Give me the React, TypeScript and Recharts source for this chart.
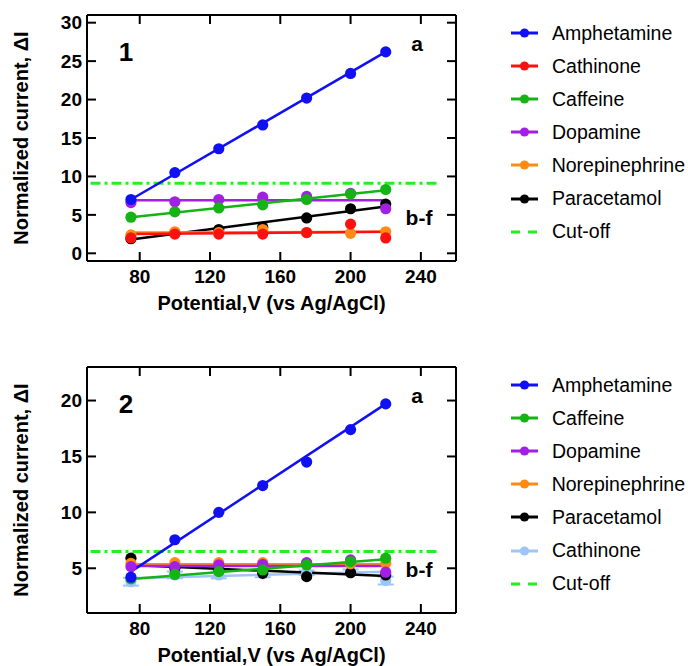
import {
  ComposedChart,
  ErrorBar,
  Line,
  Scatter,
  XAxis,
  YAxis,
} from "recharts";

const FONT = '"Liberation Sans", Arial, sans-serif';

// applied potentials (x)
const potentials = [75, 100, 125, 150, 175, 200, 220];
const fitX = [75, 220];
const cutX = [52, 250];
const xTicks = [80, 120, 160, 200, 240];

// panel 1
const amph1 = [7.0, 10.5, 13.6, 16.7, 20.2, 23.4, 26.2];
const cath1 = [2.0, 2.5, 2.5, 2.5, 2.7, 3.8, 2.0];
const caff1 = [4.7, 5.4, 5.9, 6.3, 7.0, 7.7, 8.3];
const dopa1 = [6.6, 6.7, 7.0, 7.3, 7.4, 7.8, 5.8];
const nore1 = [2.4, 2.8, 2.7, 3.1, 2.7, 2.6, 2.8];
const para1 = [1.9, 2.6, 3.1, 3.4, 4.6, 5.8, 6.4];
const amph1Fit = [7.0, 26.2];
const cath1Fit = [2.5, 2.8];
const caff1Fit = [4.7, 8.2];
const dopa1Fit = [6.9, 6.9];
const nore1Fit = [2.7, 2.8];
const para1Fit = [1.8, 6.1];
const cutoff1 = [9.1, 9.1];
const yTicks1 = [0, 5, 10, 15, 20, 25, 30];

// panel 2
const amph2 = [4.2, 7.55, 10.0, 12.4, 14.5, 17.4, 19.7];
const caff2 = [4.05, 4.45, 4.7, 4.85, 5.3, 5.6, 5.9];
const dopa2 = [5.15, 5.15, 5.3, 5.35, 5.5, 5.75, 4.65];
const nore2 = [5.45, 5.5, 5.5, 5.5, 5.45, 5.4, 5.45];
const para2 = [5.9, 5.0, 4.9, 4.55, 4.25, 4.6, 4.4];
const cath2 = [3.8, 4.4, 4.4, 4.5, 4.6, 4.7, 3.9];
const cath2Err = [0.35, 0.3, 0.3, 0.3, 0.2, 0.2, 0.35];
const amph2Fit = [4.7, 19.7];
const caff2Fit = [4.05, 5.8];
const dopa2Fit = [5.2, 5.2];
const nore2Fit = [5.35, 5.35];
const para2Fit = [5.3, 4.3];
const cath2Fit = [4.1, 4.7];
const cutoff2 = [6.5, 6.5];
const yTicks2 = [5, 10, 15, 20];

const C = {
  amph: "#1010f2",
  cath: "#ff1010",
  caff: "#14b414",
  dopa: "#a41fe6",
  nore: "#ff8a14",
  para: "#000000",
  cathLight: "#9ec5f8",
  cut: "#22f022",
};

type Series = {
  name: string;
  color: string;
  values: number[];
  fit: number[];
  err?: number[];
};

// drawn back to front
const panel1: Series[] = [
  { name: "Paracetamol", color: C.para, values: para1, fit: para1Fit },
  { name: "Norepinephrine", color: C.nore, values: nore1, fit: nore1Fit },
  { name: "Dopamine", color: C.dopa, values: dopa1, fit: dopa1Fit },
  { name: "Caffeine", color: C.caff, values: caff1, fit: caff1Fit },
  { name: "Cathinone", color: C.cath, values: cath1, fit: cath1Fit },
  { name: "Amphetamine", color: C.amph, values: amph1, fit: amph1Fit },
];

const panel2: Series[] = [
  { name: "Cathinone", color: C.cathLight, values: cath2, fit: cath2Fit, err: cath2Err },
  { name: "Paracetamol", color: C.para, values: para2, fit: para2Fit },
  { name: "Norepinephrine", color: C.nore, values: nore2, fit: nore2Fit },
  { name: "Dopamine", color: C.dopa, values: dopa2, fit: dopa2Fit },
  { name: "Caffeine", color: C.caff, values: caff2, fit: caff2Fit },
  { name: "Amphetamine", color: C.amph, values: amph2, fit: amph2Fit },
];

const legend1 = ["Amphetamine", "Cathinone", "Caffeine", "Dopamine", "Norepinephrine", "Paracetamol"];
const legend2 = ["Amphetamine", "Caffeine", "Dopamine", "Norepinephrine", "Paracetamol", "Cathinone"];

const toPoints = (xs: number[], ys: number[], err?: number[]) =>
  xs.map((x, i) => ({ x, y: ys[i], err: err ? err[i] : 0 }));

type PanelProps = {
  series: Series[];
  cutoff: number[];
  yDomain: [number, number];
  yTicks: number[];
  panel: string;
  height: number;
};

function Panel({ series, cutoff, yDomain, yTicks, panel, height }: PanelProps) {
  const tickStyle = { fontSize: 19, fontWeight: 700, fill: "#000", fontFamily: FONT };
  const axisLine = { stroke: "#000", strokeWidth: 2 };
  const tickLine = { stroke: "#000", strokeWidth: 2 };
  return (
    <ComposedChart
      height={height}
      margin={{ top: 15, right: 24, bottom: height - 15 - 246 - 50, left: 21 }}
      width={480}
    >
      <XAxis
        allowDataOverflow
        axisLine={axisLine}
        dataKey="x"
        domain={[50, 260]}
        height={50}
        label={{
          value: "Potential,V (vs Ag/AgCl)",
          position: "insideBottom",
          offset: 1,
          style: { fontSize: 20, fontWeight: 700, fill: "#000", fontFamily: FONT },
        }}
        tick={tickStyle}
        tickLine={tickLine}
        tickMargin={18}
        tickSize={-9}
        ticks={xTicks}
        type="number"
      />
      <XAxis
        allowDataOverflow
        axisLine={axisLine}
        dataKey="x"
        domain={[50, 260]}
        mirror
        orientation="top"
        tickFormatter={() => ""}
        tickLine={tickLine}
        tickSize={9}
        ticks={xTicks}
        type="number"
        xAxisId="top"
      />
      <YAxis
        allowDataOverflow
        axisLine={axisLine}
        dataKey="y"
        domain={yDomain}
        label={{
          value: "Normalized current, ΔI",
          angle: -90,
          position: "insideLeft",
          offset: 0,
          style: { fontSize: 20, fontWeight: 700, fill: "#000", fontFamily: FONT, textAnchor: "middle" },
        }}
        tick={tickStyle}
        tickLine={tickLine}
        tickMargin={14}
        tickSize={-9}
        ticks={yTicks}
        type="number"
        width={66}
      />
      <YAxis
        allowDataOverflow
        axisLine={axisLine}
        dataKey="y"
        domain={yDomain}
        mirror
        orientation="right"
        tickFormatter={() => ""}
        tickLine={tickLine}
        tickSize={9}
        ticks={yTicks}
        type="number"
        width={10}
        yAxisId="right"
      />
      <Line
        data={toPoints(cutX, cutoff)}
        dataKey="y"
        dot={false}
        isAnimationActive={false}
        stroke={C.cut}
        strokeDasharray="10 4 3 4"
        strokeWidth={3}
        type="linear"
      />
      {series.flatMap((s) => [
        <Line
          data={toPoints(fitX, s.fit)}
          dataKey="y"
          dot={false}
          isAnimationActive={false}
          key={`${s.name}-fit`}
          stroke={s.color}
          strokeWidth={2.5}
          type="linear"
        />,
        <Scatter
          data={toPoints(potentials, s.values, s.err)}
          dataKey="y"
          fill={s.color}
          isAnimationActive={false}
          key={`${s.name}-pts`}
          shape={(p: any) => <circle cx={p.cx} cy={p.cy} fill={s.color} r={5.6} />}
        >
          {s.err ? (
            <ErrorBar
              dataKey="err"
              direction="y"
              stroke={s.color}
              strokeWidth={2}
              width={8}
            />
          ) : null}
        </Scatter>,
      ])}
      <text fill="#000" fontFamily={FONT} fontSize={26} fontWeight={700} textAnchor="middle" x={126} y={61}>
        {panel}
      </text>
      <text fill="#000" fontFamily={FONT} fontSize={21} fontWeight={700} textAnchor="middle" x={417} y={51}>
        a
      </text>
      <text fill="#000" fontFamily={FONT} fontSize={21} fontWeight={700} textAnchor="middle" x={419} y={225}>
        b-f
      </text>
    </ComposedChart>
  );
}

function LegendBox({ names, colors, top }: { names: string[]; colors: Record<string, string>; top: number }) {
  const rows = [...names, "Cut-off"];
  return (
    <div style={{ position: "absolute", left: 505, top, fontFamily: FONT }}>
      {rows.map((name, i) => (
        <div
          key={name}
          style={{ position: "absolute", left: 0, top: i * 33.1 - 12, height: 24, width: 180, display: "flex", alignItems: "center" }}
        >
          <svg height={24} width={40}>
            {name === "Cut-off" ? (
              <line stroke={C.cut} strokeDasharray="9 8" strokeWidth={3} x1={6} x2={33} y1={12} y2={12} />
            ) : (
              <>
                <line stroke={colors[name]} strokeWidth={3} x1={6} x2={33} y1={12} y2={12} />
                <circle cx={19.5} cy={12} fill={colors[name]} r={4.6} />
              </>
            )}
          </svg>
          <span style={{ marginLeft: 7, fontSize: 19.5, color: "#000", whiteSpace: "nowrap" }}>{name}</span>
        </div>
      ))}
    </div>
  );
}

export default function App() {
  const colors1: Record<string, string> = {};
  panel1.forEach((s) => (colors1[s.name] = s.color));
  const colors2: Record<string, string> = {};
  panel2.forEach((s) => (colors2[s.name] = s.color));
  return (
    <div
      style={{ position: "absolute", left: 0, top: 0, width: 688, height: 666, overflow: "hidden", background: "#fff" }}
    >
      <div style={{ position: "absolute", left: 0, top: 0 }}>
        <Panel cutoff={cutoff1} height={330} panel="1" series={panel1} yDomain={[-1, 31]} yTicks={yTicks1} />
      </div>
      <div style={{ position: "absolute", left: 0, top: 352 }}>
        <Panel cutoff={cutoff2} height={314} panel="2" series={panel2} yDomain={[1, 23]} yTicks={yTicks2} />
      </div>
      <LegendBox colors={colors1} names={legend1} top={33} />
      <LegendBox colors={colors2} names={legend2} top={385} />
    </div>
  );
}
